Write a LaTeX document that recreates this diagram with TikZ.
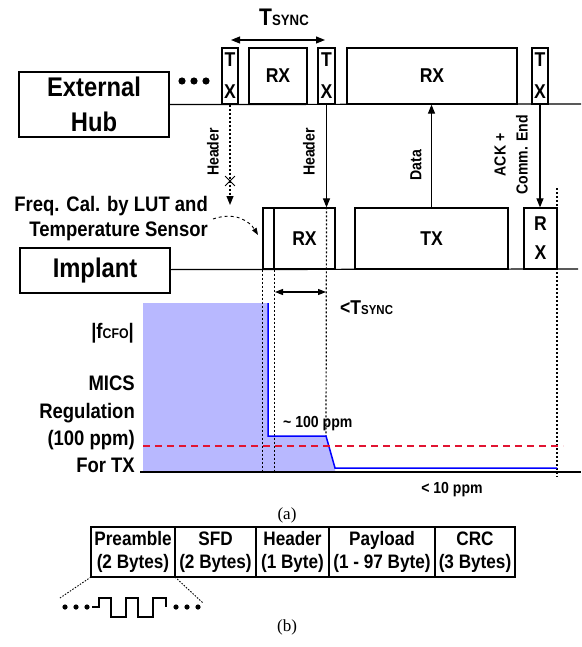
\documentclass[tikz,border=0pt]{standalone}
\usepackage{fontspec}
\setmainfont{Liberation Sans}[FakeStretch=0.88]
\newfontfamily\capfont{Liberation Serif}
\usetikzlibrary{positioning,arrows.meta,shapes.misc}
\definecolor{cfofill}{RGB}{184,184,255}
\definecolor{cfoline}{RGB}{0,0,255}
\definecolor{micsred}{RGB}{225,20,50}

\begin{document}
\begin{tikzpicture}[x=1pt, y=-1pt, every node/.style={font=\bfseries, align=center, inner sep=0pt},
  unit/.style={draw, line width=1.2pt, minimum width=150, font=\fontsize{27}{35}\selectfont\bfseries},
  slot/.style={draw, line width=1.2pt, font=\fontsize{20}{32}\selectfont\bfseries},
  cell/.style={draw, line width=1.1pt, outer sep=0pt, minimum height=50, font=\fontsize{19.5}{23}\selectfont\bfseries},
  side/.style={rotate=90, font=\fontsize{16}{22}\selectfont\bfseries},
  note/.style={align=right, font=\fontsize{21}{27.3}\selectfont\bfseries},
  flecha/.style={-{Stealth[length=9pt, width=7pt, inset=0pt]}, line width=1.1pt},
  guia/.style={dash pattern=on 2pt off 2pt, line width=1.2pt}]
\useasboundingbox (0,0) rectangle (581,647);

% external hub
\node[unit, minimum height=65] (hub) at (94,104.5) {External\\Hub};
\node[slot, minimum width=16, minimum height=56] (tx1) at (230,76) {T\\X};
\node[slot, minimum width=58, minimum height=56] (rx1) at (278,76) {RX};
\node[slot, minimum width=17, minimum height=56] (tx2) at (326.5,76) {T\\X};
\node[slot, minimum width=170, minimum height=56] (rx2) at (432,76) {RX};
\node[slot, minimum width=16, minimum height=56] (tx3) at (540,76) {T\\X};
\coordinate (hubend) at (581,104);
\draw[line width=1.2pt] (hub.east |- tx1.south) -- (hubend);
\foreach \x in {182,194,206} \fill (\x,81) circle (3.6);
\coordinate (ts0) at (231,40);
\coordinate (ts1) at (325,40);
\draw[{Stealth[length=9pt, width=7pt, inset=0pt]}-{Stealth[length=9pt, width=7pt, inset=0pt]}, line width=1.1pt] (ts0) -- (ts1);
\node[anchor=base] (tsync) at (284,26) {\fontsize{24}{24}\selectfont T{\fontsize{15}{15}\selectfont SYNC}};

% implant
\node[unit, minimum height=45] (impl) at (95,270.5) {Implant};
\node[slot, minimum width=11, minimum height=61] (cal) at (268.5,238.5) {};
\node[slot, minimum width=61, minimum height=61] (rxi) at (304.5,238.5) {RX};
\node[slot, minimum width=153, minimum height=61] (txi) at (431.5,238.5) {TX};
\node[slot, minimum width=33, minimum height=61, font=\fontsize{20}{29}\selectfont\bfseries] (rxe) at (540.5,238.5) {R\\X};
\coordinate (implend) at (578,269);
\draw[line width=1.2pt] (impl.east |- cal.south) -- (implend);

% messages
\coordinate (lost) at (230,205);
\draw[flecha, guia] (tx1.south) -- (lost);
\node[draw, cross out, minimum size=9, line width=0.8pt] (blocked) at (230,181) {};
\node[side] (hdr1) at (213,152) {Header};
\draw[flecha] (tx2.south) -- (tx2.south |- rxi.north);
\node[side] (hdr2) at (309,152) {Header};
\draw[flecha] (txi.north) -- (txi.north |- rx2.south);
\node[side] (data) at (416,165) {Data};
\draw[flecha] (tx3.south) -- (tx3.south |- rxe.north);
\node[side] (ack) at (511,155) {ACK +\\Comm. End};

\node[note, anchor=east, font=\fontsize{21}{25}\selectfont\bfseries] (freq) at (208,219) {Freq. Cal. by LUT and\\Temperature Sensor};
\coordinate (calin) at (258,235);
\draw[dashed, -{Stealth[length=7pt, width=5pt, inset=0pt]}, line width=0.9pt] ([xshift=5pt]freq.east) .. controls (236,211) and (250,222) .. (calin);

% cfo plot
\coordinate (ax0) at (140,472);
\coordinate (ax1) at (581,472);
\coordinate (knee) at (326,436);
\fill[cfofill] (143,303) -- (268,303) -- (268,436) -- (knee) -- (335,468) -- (335,472) -- (143,472) -- cycle;
\draw[guia] (cal.south west) -- (cal.south west |- ax0);
\draw[guia] (cal.south east) -- (cal.south east |- ax0);
\draw[guia] (tx2.south |- rxi.north) -- (knee);
\coordinate (endtop) at (557,188);
\coordinate (endbot) at (557,477);
\draw[guia] (endtop) -- (endbot);
\draw[cfoline, line width=1.5pt] (268,303) -- (268,436) -- (knee) -- (335,468) -- (557,468);
\draw[micsred, dash pattern=on 7pt off 5pt, line width=1.3pt] (143,446) -- (563,446);
\draw[line width=1.5pt] (ax0) -- (ax1);
\coordinate (sy0) at (275,292);
\coordinate (sy1) at (326,292);
\draw[{Stealth[length=8pt, width=6pt, inset=0pt]}-{Stealth[length=8pt, width=6pt, inset=0pt]}, line width=1.1pt] (sy0) -- (sy1);
\node[anchor=base west] (ltsync) at (340,314) {\fontsize{20}{20}\selectfont <T{\fontsize{13}{13}\selectfont SYNC}};

\node[note, anchor=east] (cfo) at (134,333) {|f{\fontsize{14}{14}\selectfont CFO}|};
\node[note, anchor=east] (mics) at (135,424.5) {MICS\\Regulation\\(100 ppm)\\For TX};
\node[anchor=base west, font=\fontsize{16}{16}\selectfont\bfseries] (p100) at (283,427) {\textasciitilde\ 100 ppm};
\node[font=\fontsize{16}{16}\selectfont\bfseries] (p10) at (452,490) {< 10 ppm};
\node[font=\capfont\fontsize{17}{17}\selectfont] (capa) at (287,515) {(a)};

% packet
\node[cell, minimum width=84] (pre) at (133,552) {Preamble\\(2 Bytes)};
\node[cell, minimum width=81, right=0pt of pre] (sfd) {SFD\\(2 Bytes)};
\node[cell, minimum width=73, right=0pt of sfd] (hdr) {Header\\(1 Byte)};
\node[cell, minimum width=106, right=0pt of hdr] (pay) {Payload\\(1 - 97 Byte)};
\node[cell, minimum width=80, right=0pt of pay] (crc) {CRC\\(3 Bytes)};
\coordinate (zoomL) at (60,598);
\coordinate (zoomR) at (203,603);
\draw[dash pattern=on 1.5pt off 1.5pt, line width=0.9pt] (pre.south west) -- (zoomL);
\draw[dash pattern=on 1.5pt off 1.5pt, line width=0.9pt] (pre.south east) -- (zoomR);
\foreach \x in {65,76,87,176,187,198} \fill (\x,607) circle (2.6);
\draw[line width=1.2pt] (92,607) -- (99,607) -- (99,598) -- (111,598) -- (111,617) -- (126,617) -- (126,598) -- (138,598) -- (138,617) -- (153,617) -- (153,598) -- (166,598) -- (166,607);
\node[font=\capfont\fontsize{17}{17}\selectfont] (capb) at (287,627) {(b)};
\end{tikzpicture}
\end{document}
